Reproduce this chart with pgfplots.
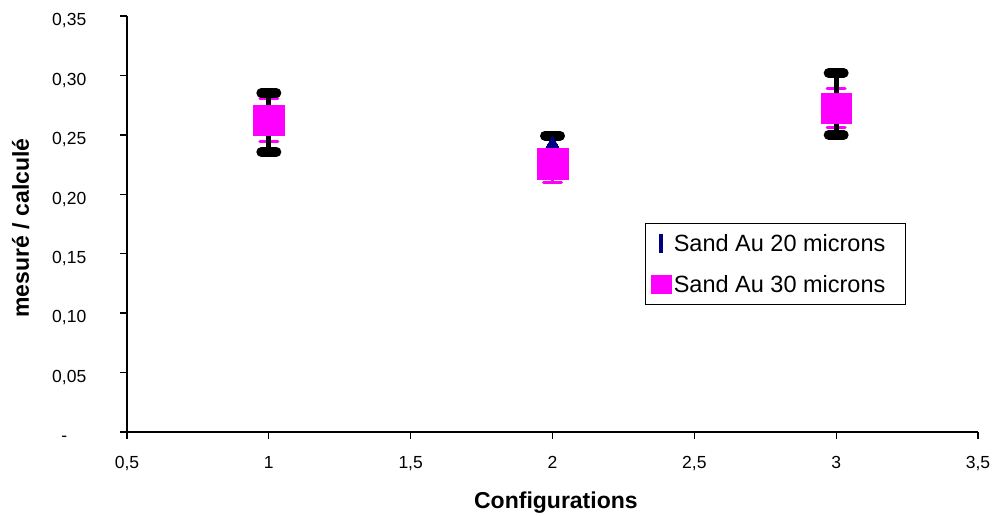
\documentclass[border=0pt]{standalone}
\usepackage{fontspec}
\setmainfont{Liberation Sans}
\usepackage{pgfplots}
\usepackage{pgfplotstable}
\pgfplotsset{compat=1.18}

\definecolor{excelnavy}{RGB}{0,0,128}
\definecolor{excelmagenta}{RGB}{255,0,255}

% configuration, ratio, error above, error below
\pgfplotstableread{
x   y       ep      em
1   0.2604  0.0248  0.0248
2   0.2417  0.0076  0.0076
3   0.2760  0.0260  0.0260
}\sandtwenty
\pgfplotstableread{
x   y       ep      em
1   0.2625  0.0177  0.0177
2   0.2255  0.0225  0.0152
3   0.2724  0.0164  0.0164
}\sandthirty

\begin{document}
\begin{tikzpicture}
\begin{axis}[
  scale only axis,
  width=851pt, height=416pt,
  xmin=0.5, xmax=3.5, ymin=0, ymax=0.35,
  clip=false,
  axis x line*=bottom, axis y line*=left,
  axis line style={line width=1.3pt, black, -},
  xtick={0.5,1,1.5,2,2.5,3,3.5},
  xticklabels={{0,5},1,{1,5},2,{2,5},3,{3,5}},
  ytick={0,0.05,0.1,0.15,0.2,0.25,0.3,0.35},
  yticklabels={{-\hspace*{19pt}},{0,05},{0,10},{0,15},{0,20},{0,25},{0,30},{0,35}},
  tick align=outside,
  major tick length=6.5pt,
  tick style={line width=1.3pt, black},
  ticklabel style={font=\fontsize{17.5}{20}\selectfont},
  xticklabel style={anchor=base, inner sep=0pt, yshift=-30pt},
  yticklabel style={anchor=base east, inner sep=0pt, xshift=-34pt, yshift=-9.75pt},
  xlabel={\textbf{Configurations}},
  ylabel={\textbf{mesuré / calculé}},
  every axis x label/.style={at={(axis description cs:0.504,-0.1827)}, anchor=base,
    font=\fontsize{23}{26}\selectfont},
  every axis y label/.style={at={(axis description cs:-0.1152,0.4904)}, anchor=base,
    rotate=90, font=\fontsize{23}{26}\selectfont},
  legend style={at={(axis description cs:0.6087,0.5024)}, anchor=north west,
    draw=black, line width=1.2pt, fill=white,
    font=\fontsize{23.5}{26}\selectfont,
    inner xsep=5pt, inner ysep=3pt, row sep=7.5pt, column sep=0pt,
    nodes={inner xsep=2pt, inner ysep=7.5pt}},
  legend cell align=left,
]
% error bars of the 30 micron series, kept beneath everything else
\addplot[only marks, mark=none, forget plot,
  error bars/.cd, y dir=both, y explicit,
  error bar style={line width=3pt, excelmagenta},
  error mark=|,
  error mark options={excelmagenta, line width=3pt, line cap=round, mark size=9pt}]
  table[x=x, y=y, y error plus=ep, y error minus=em] {\sandthirty};

% 20 micron series with its black error bars
\addplot[only marks, mark=triangle*, mark size=8.7pt,
  mark options={fill=excelnavy, draw=excelnavy, line width=0pt},
  legend image code/.code={
    \path[draw=none, fill=none] (0pt,0pt) rectangle (20pt,1pt);
    \fill[excelnavy] (8.5pt,-9pt) rectangle (11.5pt,9pt);},
  error bars/.cd, y dir=both, y explicit,
  error bar style={line width=5pt, black},
  error mark=|,
  error mark options={black, line width=10pt, line cap=round, mark size=7.5pt}]
  table[x=x, y=y, y error plus=ep, y error minus=em] {\sandtwenty};
\addlegendentry{Sand Au 20 microns\hspace*{13pt}}

% 30 micron series markers
\addplot[only marks, mark=square*, mark size=15.3pt, excelmagenta,
  mark options={fill=excelmagenta, draw=excelmagenta, line width=0.4pt},
  legend image code/.code={
    \fill[excelmagenta] (0pt,-9pt) rectangle (20pt,9pt);}]
  table[x=x, y=y] {\sandthirty};
\addlegendentry{Sand Au 30 microns\hspace*{13pt}}
\end{axis}
\pgfresetboundingbox
\path[use as bounding box] (-127pt,-83pt) rectangle (866pt,432pt);
\end{tikzpicture}
\end{document}
